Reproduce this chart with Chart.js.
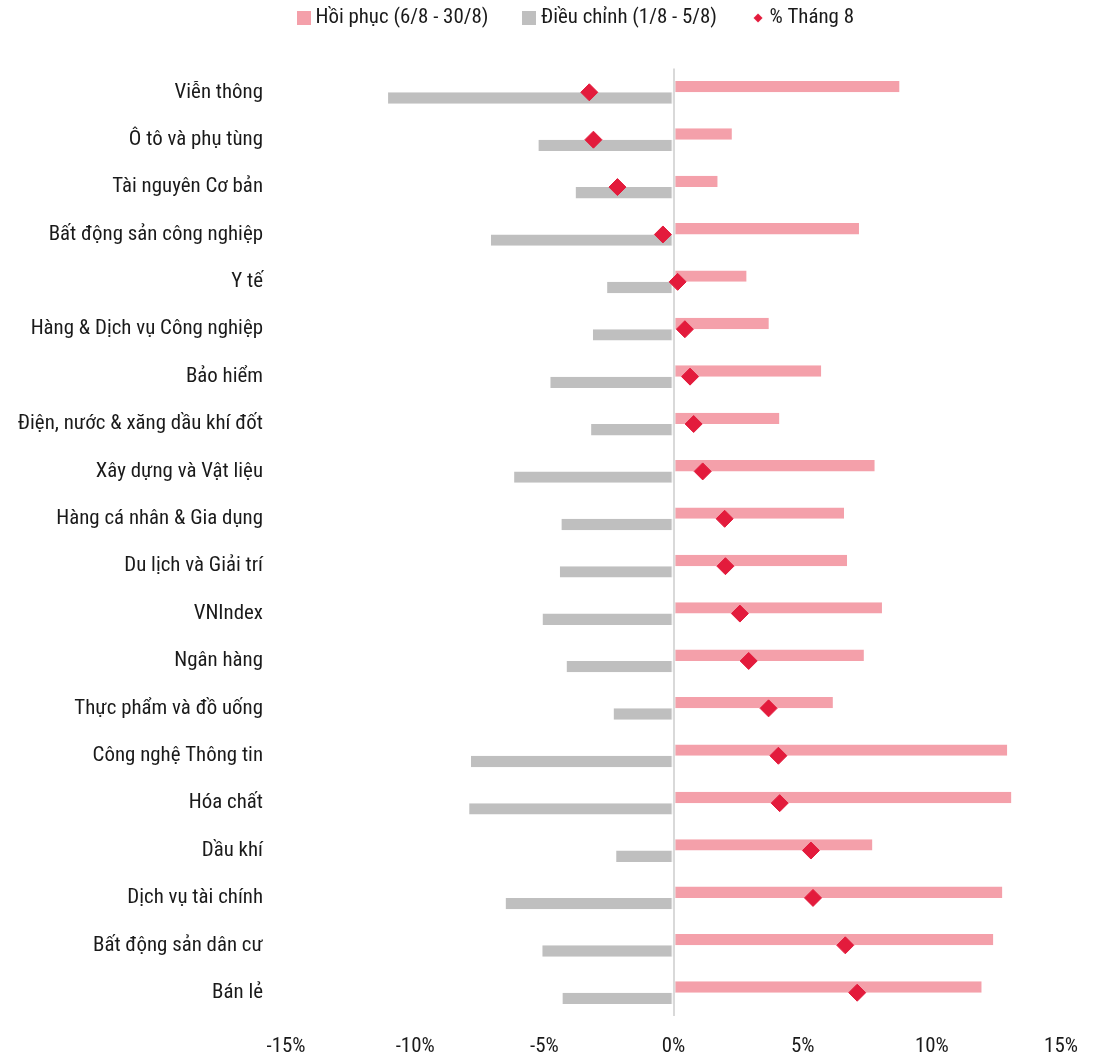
<!DOCTYPE html>
<html lang="vi">
<head>
<meta charset="utf-8">
<title>Diễn biến các ngành tháng 8</title>
<script src="https://cdn.jsdelivr.net/npm/chart.js@4.4.1/dist/chart.umd.min.js"></script>
<style>
  html, body { margin: 0; padding: 0; background: #ffffff; }
  #wrap { width: 1107px; height: 1056px; }
</style>
</head>
<body>
<div id="wrap"><canvas id="chart" width="1107" height="1056"></canvas></div>
<script>
// Ngành (top to bottom)
const sectors = [
  'Viễn thông',
  'Ô tô và phụ tùng',
  'Tài nguyên Cơ bản',
  'Bất động sản công nghiệp',
  'Y tế',
  'Hàng & Dịch vụ Công nghiệp',
  'Bảo hiểm',
  'Điện, nước & xăng dầu khí đốt',
  'Xây dựng và Vật liệu',
  'Hàng cá nhân & Gia dụng',
  'Du lịch và Giải trí',
  'VNIndex',
  'Ngân hàng',
  'Thực phẩm và đồ uống',
  'Công nghệ Thông tin',
  'Hóa chất',
  'Dầu khí',
  'Dịch vụ tài chính',
  'Bất động sản dân cư',
  'Bán lẻ'
];

// % thay đổi giai đoạn hồi phục (6/8 - 30/8)
const recovery = [8.75, 2.26, 1.71, 7.18, 2.83, 3.69, 5.72, 4.10, 7.79, 6.60,
                  6.72, 8.07, 7.37, 6.17, 12.92, 13.08, 7.70, 12.73, 12.38, 11.93];

// % thay đổi giai đoạn điều chỉnh (1/8 - 5/8)
const correction = [-11.05, -5.23, -3.79, -7.07, -2.57, -3.12, -4.77, -3.19, -6.17, -4.34,
                    -4.40, -5.07, -4.14, -2.32, -7.84, -7.91, -2.22, -6.50, -5.08, -4.30];

// % thay đổi cả tháng 8
const august = [-3.26, -3.10, -2.17, -0.41, 0.16, 0.44, 0.64, 0.78, 1.13, 1.98,
                2.01, 2.57, 2.91, 3.68, 4.06, 4.11, 5.32, 5.40, 6.65, 7.11];

// Trục hoành
const xTicks = [-15, -10, -5, 0, 5, 10, 15];

const PINK = '#F4A0AA';
const GREY = '#BFBFBF';
const RED = '#E31B3C';
const ZERO_LINE = '#D9D9D9';
const TEXT = '#1a1a1a';

// Pick a narrow sans face: the longest category label should be about 233px wide.
const BASE_SIZE = 22;
const SAMPLE_TEXT = 'Hàng & Dịch vụ Công nghiệp';
const SAMPLE_WIDTH = 233;
function pickFont() {
  const ctx = document.createElement('canvas').getContext('2d');
  const measure = f => { ctx.font = f; return ctx.measureText(SAMPLE_TEXT).width; };
  const mono = measure(BASE_SIZE + 'px monospace');
  const families = ['Liberation Sans Narrow', 'Roboto', 'Open Sans', 'Noto Sans', 'Liberation Sans', 'DejaVu Sans'];
  const stretches = ['condensed', 'semi-condensed', ''];
  let best = null;
  for (const fam of families) {
    const plain = measure(BASE_SIZE + "px '" + fam + "', monospace");
    if (Math.abs(plain - mono) < 0.01) continue;
    for (const st of stretches) {
      const w = measure((st ? st + ' ' : '') + BASE_SIZE + "px '" + fam + "', monospace");
      const score = Math.abs(Math.log(w / SAMPLE_WIDTH));
      if (!best || score < best.score - 1e-6) best = { fam, st, w, score };
    }
  }
  if (!best) return { family: 'sans-serif', stretch: '', size: 19 };
  const size = Math.round(BASE_SIZE * SAMPLE_WIDTH / best.w * 10) / 10;
  return { family: "'" + best.fam + "', sans-serif", stretch: best.st, size };
}
const face = pickFont();
const FS = face.size;

Chart.defaults.font.family = face.family;
Chart.defaults.font.size = FS;
if (face.stretch) Chart.defaults.font.weight = face.stretch;
Chart.defaults.color = TEXT;

// Small legend markers
function marker(draw) {
  const c = document.createElement('canvas');
  c.width = 14; c.height = 14;
  const g = c.getContext('2d');
  draw(g);
  return c;
}
const pinkSwatch = marker(g => { g.fillStyle = PINK; g.fillRect(0, 0, 14, 14); });
const greySwatch = marker(g => { g.fillStyle = GREY; g.fillRect(0, 0, 14, 14); });
const redDiamond = marker(g => {
  g.fillStyle = RED;
  g.beginPath();
  g.moveTo(7, 2.5); g.lineTo(11.5, 7); g.lineTo(7, 11.5); g.lineTo(2.5, 7);
  g.closePath(); g.fill();
});
const legendMarkers = [pinkSwatch, greySwatch, redDiamond];

const LEGEND_PAD = 40;
const LEGEND_BOX = 2;
// Places the legend row above the plot: first swatch at x=297, text centred on y=18
const legendPlacement = {
  id: 'legendPlacement',
  afterLayout(chart) {
    if (chart.legend) {
      chart.legend.left = 297 + 7 - LEGEND_BOX / 2 - LEGEND_PAD;
      chart.legend.top = 18 - LEGEND_PAD - Math.max(FS, 14) / 2;
    }
  }
};

new Chart(document.getElementById('chart'), {
  data: {
    labels: sectors,
    datasets: [
      {
        type: 'bar',
        label: 'Hồi phục (6/8 - 30/8)',
        data: recovery,
        backgroundColor: PINK,
        borderColor: ZERO_LINE,
        borderWidth: { left: 1, right: 0, top: 0, bottom: 0 },
        borderSkipped: false,
        categoryPercentage: 0.48,
        barPercentage: 1.0,
        order: 0
      },
      {
        type: 'bar',
        label: 'Điều chỉnh (1/8 - 5/8)',
        data: correction,
        backgroundColor: GREY,
        borderColor: ZERO_LINE,
        borderWidth: { left: 0, right: 1, top: 0, bottom: 0 },
        borderSkipped: false,
        categoryPercentage: 0.48,
        barPercentage: 1.0,
        order: 0
      },
      {
        type: 'line',
        label: '% Tháng 8',
        data: august,
        showLine: false,
        pointStyle: 'rectRot',
        pointRadius: 8.5,
        pointBorderWidth: 1,
        pointBackgroundColor: RED,
        pointBorderColor: RED,
        backgroundColor: RED,
        borderColor: RED,
        order: -1
      }
    ]
  },
  options: {
    indexAxis: 'y',
    responsive: false,
    animation: false,
    events: [],
    layout: { padding: { top: 68.6 - (Math.max(FS, 14) + LEGEND_PAD + 10), right: 46, bottom: 0, left: 0 } },
    plugins: {
      legend: {
        position: 'top',
        align: 'start',
        labels: {
          usePointStyle: true,
          boxWidth: LEGEND_BOX,
          boxHeight: 14,
          padding: LEGEND_PAD,
          color: TEXT,
          sort: (a, b) => a.datasetIndex - b.datasetIndex,
          generateLabels(chart) {
            const items = Chart.defaults.plugins.legend.labels.generateLabels(chart);
            items.forEach(it => {
              it.pointStyle = legendMarkers[it.datasetIndex];
              it.rotation = 0;
            });
            return items;
          }
        }
      },
      tooltip: { enabled: false }
    },
    scales: {
      x: {
        type: 'linear',
        min: -15,
        max: 15,
        afterBuildTicks(scale) {
          scale.ticks = xTicks.map(v => ({ value: v }));
        },
        afterFit(scale) { scale.height = 39.6; },
        ticks: {
          padding: 30 - FS / 2,
          color: TEXT,
          font: { lineHeight: 1 },
          callback: v => v + '%'
        },
        grid: {
          drawTicks: false,
          lineWidth: 2,
          color: ctx => (ctx.tick && ctx.tick.value === 0) ? ZERO_LINE : 'rgba(0,0,0,0)'
        },
        border: { display: false }
      },
      y: {
        type: 'category',
        offset: true,
        afterFit(scale) { scale.width = 286; },
        ticks: {
          padding: 23,
          color: TEXT,
          autoSkip: false
        },
        grid: { display: false, drawTicks: false },
        border: { display: false }
      }
    }
  },
  plugins: [legendPlacement]
});
</script>
</body>
</html>
